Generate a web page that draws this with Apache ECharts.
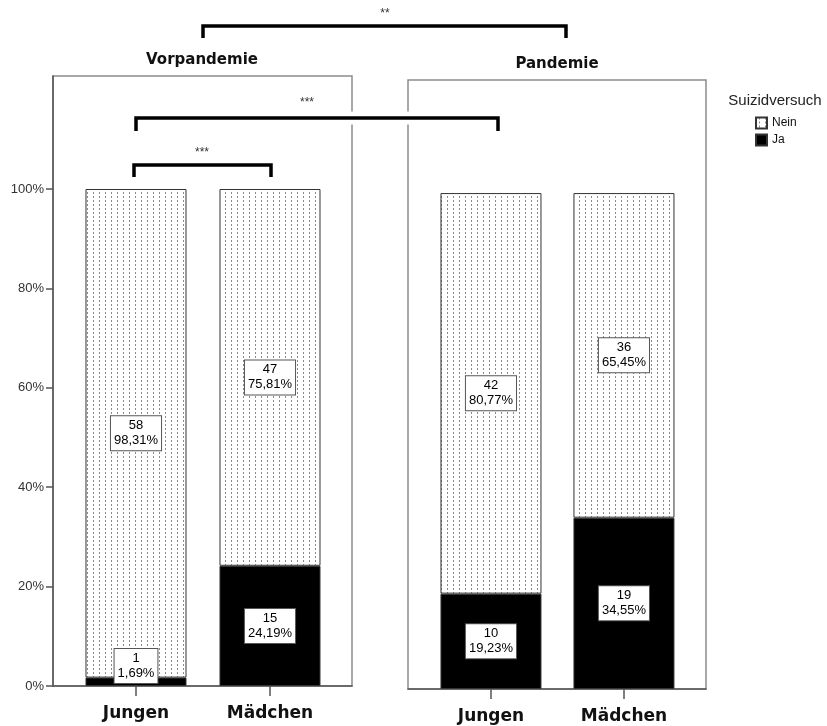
<!DOCTYPE html>
<html><head><meta charset="utf-8">
<script src="https://cdn.jsdelivr.net/npm/echarts@6/dist/echarts.min.js"></script>
<style>html,body{margin:0;padding:0;background:#fff}#c{width:827px;height:726px}</style>
</head><body><div id="c"></div>
<script>
// ---- data ----
const panels = ['Vorpandemie', 'Pandemie'];
const categories = ['Jungen', 'Mädchen'];
const seriesNames = ['Nein', 'Ja'];
const legendTitle = 'Suizidversuch';
const jaCount = [[1, 15], [10, 19]];
const neinCount = [[58, 47], [42, 36]];
const jaPct = [[1.69, 24.19], [19.23, 34.55]];
const neinPct = [[98.31, 75.81], [80.77, 65.45]];
const yTickValues = [0, 20, 40, 60, 80, 100];
const sigLabels = ['**', '***', '***'];

// ---- layout ----
const gridBoxes = [
  { left: 53, top: 76, width: 299, height: 610 },
  { left: 408, top: 80, width: 298, height: 609 }
];
const xRanges = [[-0.6194, 1.612], [-0.624, 1.617]];
const yMax = [122.74, 122.8];
const titlePos = [[202, 60], [557, 64]];
const bracketGeom = [
  { x1: 203, x2: 566, y: 26, leg: 12, lx: 385, ly: 14, gap: false },
  { x1: 136, x2: 498, y: 118, leg: 13, lx: 307, ly: 103, gap: true },
  { x1: 134, x2: 271, y: 165, leg: 12, lx: 202, ly: 153, gap: false }
];

// dotted pattern
const pc = document.createElement('canvas');
pc.width = 6; pc.height = 4;
const g = pc.getContext('2d');
g.fillStyle = '#fff'; g.fillRect(0, 0, 6, 4);
g.fillStyle = '#8a8a8a'; g.fillRect(3, 0, 1, 2);
const patternFill = { image: pc, repeat: 'repeat' };

const fmtPct = v => v.toFixed(2).replace('.', ',') + '%';

const baseLabel = {
  show: true, position: 'inside', backgroundColor: '#fff', borderColor: '#555', borderWidth: 1,
  padding: [2, 3], color: '#000', fontSize: 13, lineHeight: 15, fontFamily: 'Liberation Sans'
};

const series = [];
[0, 1].forEach(p => {
  series.push({
    name: 'Ja', type: 'bar', stack: 'p' + p, xAxisIndex: p, yAxisIndex: p, barWidth: 101,
    encode: { x: 1, y: 0 },
    itemStyle: { color: '#000', borderColor: '#333', borderWidth: 1 },
    label: Object.assign({}, baseLabel, {
      formatter: prm => jaCount[p][prm.dataIndex] + '\n' + fmtPct(jaPct[p][prm.dataIndex])
    }),
    data: categories.map((c, i) => {
      const d = { value: [jaPct[p][i], i] };
      if (jaPct[p][i] < 5) d.label = { position: 'insideBottom', distance: 3 };
      return d;
    })
  });
  series.push({
    name: 'Nein', type: 'bar', stack: 'p' + p, xAxisIndex: p, yAxisIndex: p, barWidth: 101,
    encode: { x: 1, y: 0 },
    itemStyle: { color: patternFill, borderColor: '#333', borderWidth: 1 },
    label: Object.assign({}, baseLabel, {
      formatter: prm => neinCount[p][prm.dataIndex] + '\n' + fmtPct(neinPct[p][prm.dataIndex])
    }),
    data: categories.map((c, i) => ({ value: [neinPct[p][i], i] }))
  });
});

const graphics = [];
panels.forEach((t, p) => {
  graphics.push({ type: 'text', x: titlePos[p][0], y: titlePos[p][1], z: 100,
    style: { text: t, font: 'bold 15px "DejaVu Sans"', fill: '#111', align: 'center', verticalAlign: 'middle' } });
});
bracketGeom.forEach((b, k) => {
  if (b.gap) graphics.push({ type: 'line', z: 99, shape: { x1: b.x1, y1: b.y, x2: b.x2, y2: b.y },
    style: { stroke: '#fff', lineWidth: 13 } });
  graphics.push({ type: 'polyline', z: 100,
    shape: { points: [[b.x1, b.y + b.leg], [b.x1, b.y], [b.x2, b.y], [b.x2, b.y + b.leg]] },
    style: { stroke: '#000', lineWidth: 3.5, fill: null } });
  graphics.push({ type: 'text', x: b.lx, y: b.ly, z: 100,
    style: { text: sigLabels[k], font: '12px "Liberation Sans"', fill: '#333', align: 'center', verticalAlign: 'middle' } });
});
graphics.push({ type: 'text', x: 775, y: 101, z: 100,
  style: { text: legendTitle, font: '15px "Liberation Sans"', fill: '#222', align: 'center', verticalAlign: 'middle' } });

const option = {
  animation: false,
  backgroundColor: '#fff',
  textStyle: { fontFamily: 'Liberation Sans' },
  grid: gridBoxes.map(b => Object.assign({}, b, { show: true, borderColor: '#8c8c8c', borderWidth: 1.5, backgroundColor: 'transparent' })),
  legend: {
    data: seriesNames, left: 755, top: 116, orient: 'vertical', icon: 'rect',
    itemWidth: 11, itemHeight: 11, itemGap: 3, padding: 0, selectedMode: false,
    textStyle: { fontSize: 12, color: '#111', lineHeight: 14, fontFamily: 'Liberation Sans' }
  },
  xAxis: [0, 1].map(p => ({
    type: 'value', gridIndex: p, min: xRanges[p][0], max: xRanges[p][1], position: 'bottom',
    splitLine: { show: false },
    axisLine: { show: true, onZero: false, lineStyle: { color: '#555', width: 1.5 } },
    axisTick: { show: true, customValues: [0, 1], length: 10, lineStyle: { color: '#555', width: 1.5 } },
    axisLabel: { customValues: [0, 1], formatter: v => categories[Math.round(v)], margin: 19,
      fontFamily: 'DejaVu Sans', fontWeight: 'bold', fontSize: 17, color: '#111' }
  })),
  yAxis: [0, 1].map(p => ({
    type: 'value', gridIndex: p, min: 0, max: yMax[p], position: 'left',
    splitLine: { show: false },
    axisLine: { show: p === 0, onZero: false, lineStyle: { color: '#555', width: 1.5 } },
    axisTick: { show: p === 0, customValues: yTickValues, length: 7, lineStyle: { color: '#555', width: 1.5 } },
    axisLabel: { show: p === 0, customValues: yTickValues, formatter: '{value}%', margin: 9, fontSize: 13, color: '#333' }
  })),
  graphic: graphics,
  series: series
};
const chart = echarts.init(document.getElementById('c'), null, { renderer: 'canvas' });
chart.setOption(option);
</script></body></html>
